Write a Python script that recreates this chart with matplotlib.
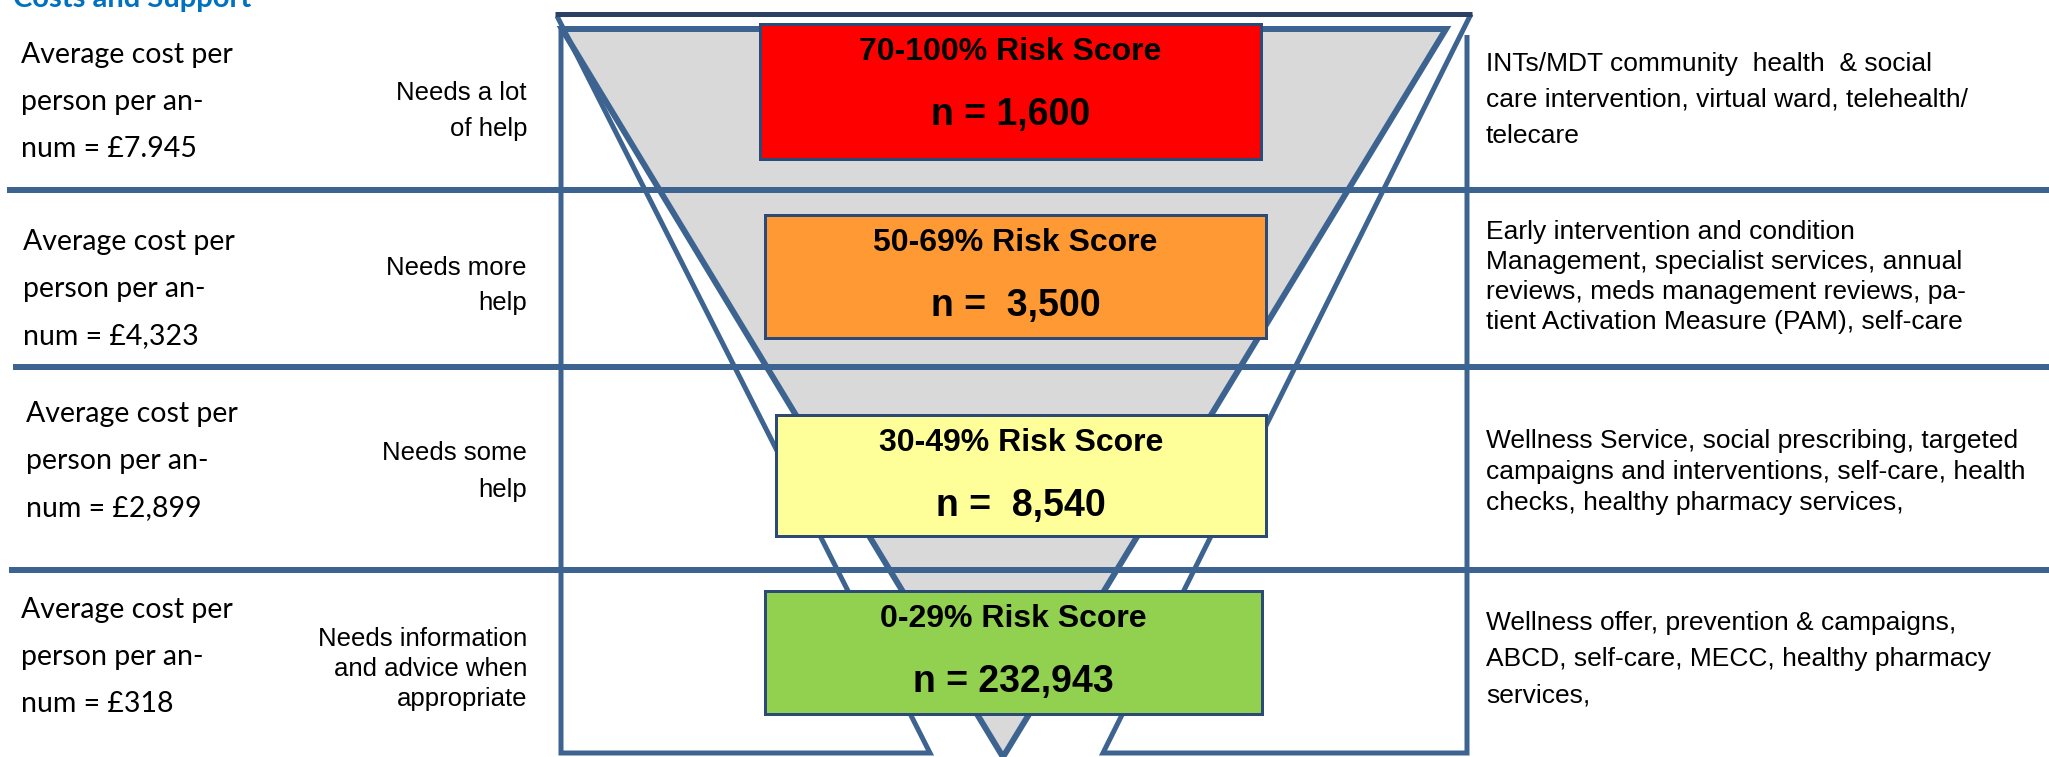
import matplotlib
matplotlib.use("Agg")
import matplotlib.pyplot as plt
from matplotlib.patches import Polygon, Rectangle

# ---- data ----
risk_bands = ["70-100%", "50-69%", "30-49%", "0-29%"]
patients = ["1,600", " 3,500", " 8,540", "232,943"]
band_colors = ["#ff0000", "#ff9933", "#ffff99", "#92d050"]
costs = ["£7.945", "£4,323", "£2,899", "£318"]
needs = [
    ["Needs a lot", "of help"],
    ["Needs more", "help"],
    ["Needs some", "help"],
    ["Needs information", "and advice when", "appropriate"],
]
support = [
    ["INTs/MDT community  health  & social",
     "care intervention, virtual ward, telehealth/",
     "telecare"],
    ["Early intervention and condition",
     "Management, specialist services, annual",
     "reviews, meds management reviews, pa-",
     "tient Activation Measure (PAM), self-care"],
    ["Wellness Service, social prescribing, targeted",
     "campaigns and interventions, self-care, health",
     "checks, healthy pharmacy services,"],
    ["Wellness offer, prevention & campaigns,",
     "ABCD, self-care, MECC, healthy pharmacy",
     "services,"],
]

# ---- layout (pixel units, y down) ----
W, H = 2049, 757
blue = "#3d6491"
navy = "#2b4062"
box_x = [(760, 1261), (765, 1266), (776, 1266), (765, 1262)]
box_y = [(24, 159), (215, 338), (415, 536), (591, 714)]
row_lines = [(7, 190), (13, 367), (9, 570)]
left_x = [21, 23, 26, 21]
left_base = [63, 250, 422, 618]
need_base = [(100, 36), (275, 35), (460, 37), (646, 30)]
supp_base = [(71, 36), (239, 30), (448, 31), (630, 36)]

fig = plt.figure(figsize=(W / 100, H / 100), dpi=100)
ax = fig.add_axes([0, 0, 1, 1])
ax.set_xlim(0, W)
ax.set_ylim(H, 0)
ax.axis("off")

px = 72 / 100  # points per pixel

# grey funnel
ax.add_patch(Polygon([(562, 29), (1446, 29), (1003, 757)], closed=True,
                     facecolor="#d9d9d9", edgecolor=blue, lw=6 * px,
                     joinstyle="miter", zorder=1))

# outer V frame
for xs, ys in [([557, 930, 561, 561], [16, 753, 753, 26]),
               ([1471, 1103, 1467, 1467], [14, 753, 753, 35])]:
    ax.plot(xs, ys, color=blue, lw=5 * px, solid_joinstyle="miter",
            solid_capstyle="butt", zorder=2)

# top bar
ax.plot([555, 1472], [14, 14], color=navy, lw=5 * px, solid_capstyle="butt", zorder=3)

# row separators
for x0, y in row_lines:
    ax.plot([x0, W], [y, y], color=blue, lw=6 * px, solid_capstyle="butt", zorder=3)

# risk boxes
for i, band in enumerate(risk_bands):
    x0, x1 = box_x[i]
    y0, y1 = box_y[i]
    ax.add_patch(Rectangle((x0, y0), x1 - x0, y1 - y0, facecolor=band_colors[i],
                           edgecolor="#2c4a78", lw=3 * px, zorder=5))
    cx = (x0 + x1) / 2
    ax.text(cx, y0 + 28, band + " Risk Score", ha="center", va="center",
            fontsize=23, fontweight="bold", family="Liberation Sans", zorder=6)
    ax.text(cx, y0 + 91, "n = " + patients[i], ha="center", va="center",
            fontsize=27, fontweight="bold", family="Liberation Sans", zorder=6)

# left: costs
for i, c in enumerate(costs):
    lines = ["Average cost per", "person per an-", "num = " + c]
    for j, s in enumerate(lines):
        ax.text(left_x[i], left_base[i] + 47 * j, s, ha="left", va="baseline",
                fontsize=20.5, family="Lato", zorder=6)

# middle: needs
for i, lines in enumerate(needs):
    b0, step = need_base[i]
    for j, s in enumerate(lines):
        ax.text(527, b0 + step * j, s, ha="right", va="baseline",
                fontsize=18.5, family="Liberation Sans", zorder=6)

# right: support offered
for i, lines in enumerate(support):
    b0, step = supp_base[i]
    for j, s in enumerate(lines):
        ax.text(1486, b0 + step * j, s, ha="left", va="baseline",
                fontsize=19, family="Liberation Sans", zorder=6)

# section heading, cut by the top edge
ax.text(13, 7, "Costs and Support", ha="left", va="baseline", fontsize=21,
        fontweight="bold", color="#0070c0", family="Lato", zorder=6)

fig.savefig("out.png", dpi=100)
